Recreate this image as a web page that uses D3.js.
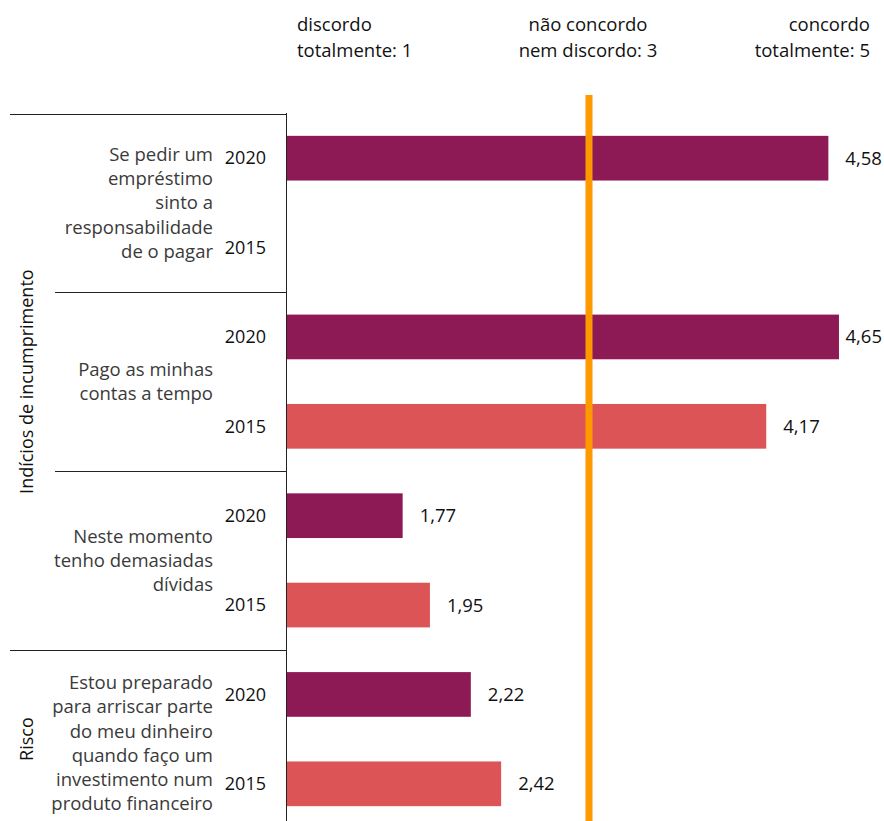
<!DOCTYPE html>
<html><head><meta charset="utf-8">
<script src="https://cdn.jsdelivr.net/npm/d3@7"></script>
<style>body{margin:0;background:#fff;} svg{display:block;font-family:"Open Sans",sans-serif;}</style>
</head><body>
<svg id="c" width="884" height="821"></svg>
<script>
const groups = [
  {name:"Indícios de incumprimento", cats:3},
  {name:"Risco", cats:1}
];
const categories = [
  ["Se pedir um","empréstimo","sinto a","responsabilidade","de o pagar"],
  ["Pago as minhas","contas a tempo"],
  ["Neste momento","tenho demasiadas","dívidas"],
  ["Estou preparado","para arriscar parte","do meu dinheiro","quando faço um","investimento num","produto financeiro"]
];
const years = ["2020","2015"];
const values2020 = [4.58, 4.65, 1.77, 2.22];
const values2015 = [null, 4.17, 1.95, 2.42];
const headers = [
  {v:1, lines:["discordo","totalmente: 1"], anchor:"start"},
  {v:3, lines:["não concordo","nem discordo: 3"], anchor:"middle"},
  {v:5, lines:["concordo","totalmente: 5"], anchor:"end"}
];
const colors = {"2020":"#8E1A55","2015":"#DC5455"};

const W=884, H=821;
const FS=18.5;
const svg=d3.select("#c");
const x=d3.scaleLinear().domain([1,5]).range([286,892]);
const rows=[];
categories.forEach((c,i)=>years.forEach(y=>rows.push({cat:i,year:y,value:y==="2020"?values2020[i]:values2015[i]})));
const y=d3.scaleBand().domain(rows.map((r,i)=>i)).range([113.5,828.5]).paddingInner(0.5).paddingOuter(0.25);
const step=y.step();
const catTop=i=>y.range()[0]+i*2*step;
const catMid=i=>catTop(i)+step;

// headers
const hx={1:x(1)+11,3:x(3)-1,5:870};
headers.forEach(h=>{
  const t=svg.append("text").attr("x",hx[h.v]).attr("text-anchor",h.anchor).attr("font-size",FS).attr("fill","#111");
  h.lines.forEach((l,j)=>t.append("tspan").attr("x",hx[h.v]).attr("y",31+j*26).text(l));
});

// bars
svg.append("g").selectAll("rect").data(rows.filter(r=>r.value!=null)).join("rect")
  .attr("x",x(1)).attr("y",d=>y(rows.indexOf(d)))
  .attr("width",d=>x(d.value)-x(1)).attr("height",y.bandwidth())
  .attr("fill",d=>colors[d.year]);

// value labels
const fmt=v=>v.toFixed(2).replace(".",",");
svg.append("g").selectAll("text").data(rows.filter(r=>r.value!=null)).join("text")
  .attr("y",d=>y(rows.indexOf(d))+y.bandwidth()/2)
  .attr("dy","0.35em").attr("font-size",FS).attr("fill","#111").text(d=>fmt(d.value))
  .each(function(d){const w=this.getComputedTextLength();d3.select(this).attr("x",Math.min(x(d.value)+17, W-2-w));});

// year labels
svg.append("g").selectAll("text").data(rows).join("text")
  .attr("x",266).attr("y",(d,i)=>y(i)+y.bandwidth()/2).attr("dy","0.35em")
  .attr("text-anchor","end").attr("font-size",18).attr("fill","#111").text(d=>d.year);

// category labels
categories.forEach((lines,i)=>{
  const lh=24.2, mid=catMid(i)+(i===3?4:0);
  const t=svg.append("text").attr("text-anchor","end").attr("font-size",FS).attr("fill","#3a3a3a");
  lines.forEach((l,j)=>t.append("tspan").attr("x",213).attr("y",mid+(j-(lines.length-1)/2)*lh).attr("dy","0.35em").text(l));
});

// separators
const lineG=svg.append("g").attr("stroke","#222").attr("stroke-width",1);
let ci=0;
groups.forEach((g,gi)=>{
  for(let k=0;k<g.cats;k++){
    const yy=Math.round(catTop(ci))+0.5;
    lineG.append("line").attr("x1",k===0?10:55).attr("x2",x(1)).attr("y1",yy).attr("y2",yy);
    ci++;
  }
  const top=catTop(ci-g.cats), bot=Math.min(catTop(ci), H+8);
  svg.append("text").attr("transform",`translate(33,${(top+bot)/2}) rotate(-90)`)
    .attr("text-anchor","middle").attr("font-size",18).attr("fill","#111").text(g.name);
});
// axis line
lineG.append("line").attr("x1",x(1)+0.5).attr("x2",x(1)+0.5).attr("y1",113).attr("y2",H);

// reference line at 3
svg.append("line").attr("x1",x(3)).attr("x2",x(3)).attr("y1",95).attr("y2",H)
  .attr("stroke","#FF9900").attr("stroke-width",7);
</script>
</body></html>
